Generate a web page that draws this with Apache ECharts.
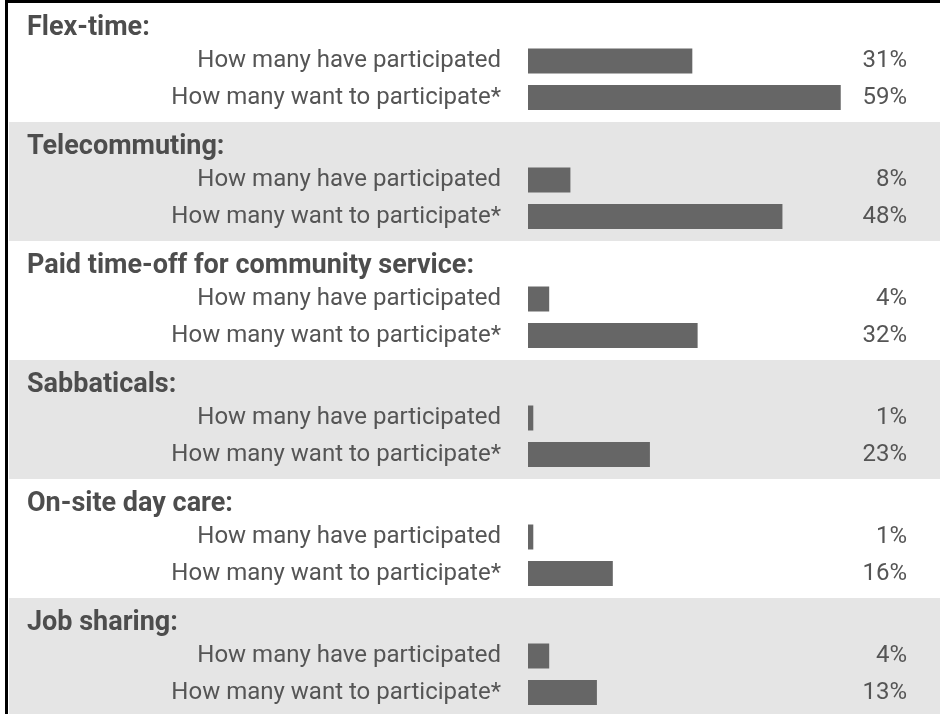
<!DOCTYPE html>
<html><head><meta charset="utf-8">
<script src="https://cdn.jsdelivr.net/npm/echarts@6/dist/echarts.min.js"></script>
<style>html,body{margin:0;padding:0;background:#fff}#c{width:940px;height:714px}</style>
</head><body><div id="c"></div>
<script>
const groups = ['Flex-time:', 'Telecommuting:', 'Paid time-off for community service:', 'Sabbaticals:', 'On-site day care:', 'Job sharing:'];
const rowLabels = ['How many have participated', 'How many want to participate*'];
const participated = [31, 8, 4, 1, 1, 4];
const wantTo = [59, 48, 32, 23, 16, 13];

const GROUP_STEP = 119, FIRST_ROW = 61, ROW_GAP = 36.5;
const FONT = 'Roboto, "Liberation Sans", sans-serif';
const grids = [], xAxes = [], yAxes = [], series = [], titles = [], graphics = [];

groups.forEach((g, k) => {
  const row1 = FIRST_ROW + GROUP_STEP * k;
  if (k % 2 === 1) {
    graphics.push({type: 'rect', z: -10, shape: {x: 9, y: row1 - 58, width: 931, height: GROUP_STEP}, style: {fill: '#e5e5e5'}});
  }
  grids.push({left: 528, right: 33, top: row1 - ROW_GAP / 2, height: ROW_GAP * 2});
  xAxes.push({gridIndex: k, type: 'value', min: 0, max: 71.5, show: false});
  yAxes.push({gridIndex: k, type: 'category', inverse: true, data: rowLabels,
    axisLine: {show: false}, axisTick: {show: false}, splitLine: {show: false},
    axisLabel: {margin: 27, padding: [14, 0, 0, 0], color: '#555', fontFamily: FONT, fontSize: 24}});
  yAxes.push({gridIndex: k, type: 'category', inverse: true, position: 'right',
    data: [participated[k] + '%', wantTo[k] + '%'],
    axisLine: {show: false}, axisTick: {show: false}, splitLine: {show: false},
    axisLabel: {margin: 0, align: 'right', padding: [14, 0, 0, 0], color: '#555', fontFamily: FONT, fontSize: 24}});
  series.push({type: 'bar', xAxisIndex: k, yAxisIndex: 2 * k, barWidth: 25,
    itemStyle: {color: '#666666'}, silent: true,
    data: [participated[k], wantTo[k]]});
  titles.push({text: g, left: 22, top: row1 - 36 - 15,
    textStyle: {fontFamily: FONT, fontWeight: 'bold', fontSize: 27, color: '#4d4d4d'}});
});

graphics.push({type: 'rect', z: 10, shape: {x: 5, y: 0, width: 3, height: 714}, style: {fill: '#000'}});
graphics.push({type: 'rect', z: 10, shape: {x: 5, y: 0, width: 935, height: 3}, style: {fill: '#000'}});

const chart = echarts.init(document.getElementById('c'), null, {renderer: 'canvas'});
chart.setOption({
  animation: false,
  backgroundColor: '#fff',
  title: titles,
  grid: grids,
  xAxis: xAxes,
  yAxis: yAxes,
  series: series,
  graphic: graphics
});
</script></body></html>
